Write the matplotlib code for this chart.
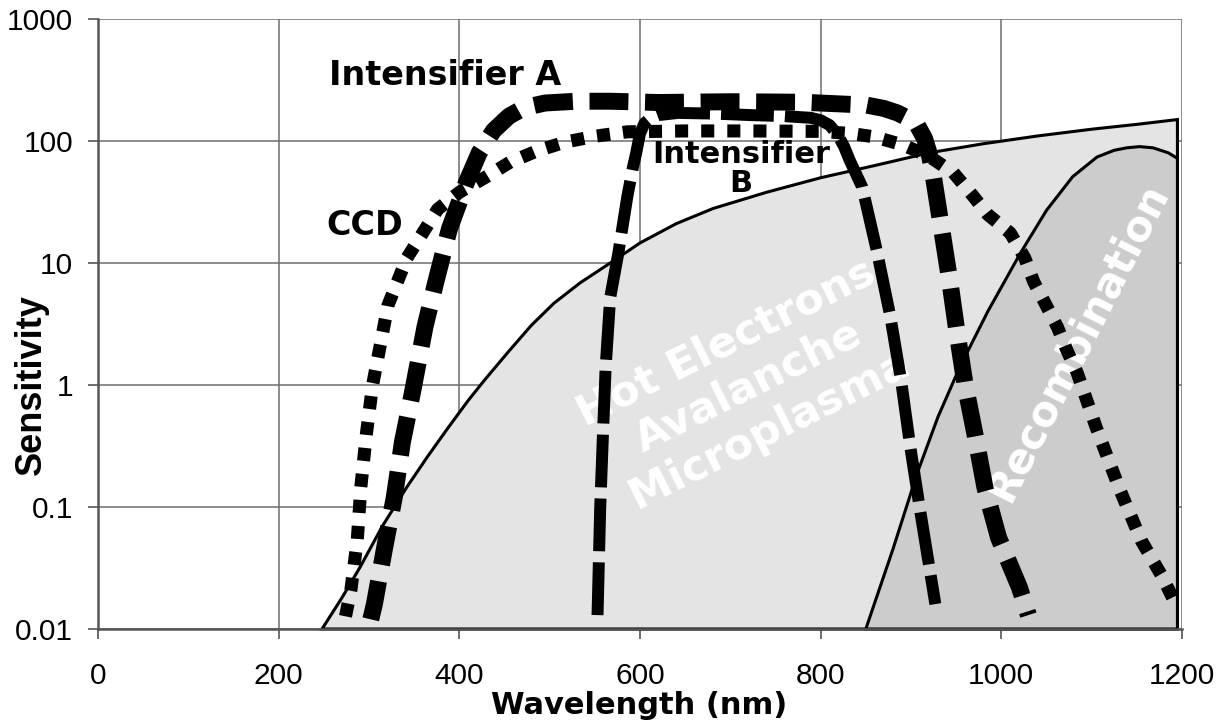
import matplotlib
matplotlib.use("Agg")
import matplotlib.pyplot as plt
from matplotlib.ticker import FixedLocator, FixedFormatter, NullLocator

plt.rcParams['font.family'] = ['Liberation Sans', 'DejaVu Sans']
plt.rcParams['lines.scale_dashes'] = False

# hot electron / avalanche / microplasma region (upper edge)
hot_x = [248, 270, 290, 315, 342, 365, 386, 410, 428, 455, 480, 505, 534, 567,
         600, 640, 681, 740, 800, 860, 920, 980, 1040, 1100, 1150, 1195]
hot_y = [0.01, 0.018, 0.032, 0.07, 0.146, 0.26, 0.43, 0.75, 1.1, 1.9, 3.1, 4.7,
         6.9, 10.0, 14.6, 21, 28, 38, 50, 63, 80, 95, 110, 125, 137, 150]

# recombination region (upper edge)
rec_x = [850, 880, 907, 930, 954, 985, 1021, 1050, 1079, 1106, 1125, 1139, 1153,
         1168, 1185, 1195]
rec_y = [0.01, 0.045, 0.19, 0.55, 1.4, 4.0, 12, 27, 51, 74, 84, 88, 90, 88, 80, 72]

# CCD sensitivity
ccd_x = [274, 280, 287, 291, 297, 304, 321, 342, 359, 376, 400, 428, 456, 486,
         517, 552, 586, 650, 720, 800, 835, 860, 891, 920, 947, 968, 985, 1010,
         1026, 1036, 1049, 1062, 1073, 1084, 1105, 1131, 1155, 1178, 1195]
ccd_y = [0.0127, 0.021, 0.053, 0.146, 0.39, 1.0, 4.5, 11, 17.4, 27.6, 38, 50, 67,
         83, 98, 110, 119, 121, 121, 120, 115, 108, 93, 75, 55, 36, 25, 17.6, 11,
         7, 4.6, 3.0, 1.9, 1.26, 0.45, 0.14, 0.053, 0.027, 0.015]

# Intensifier A
ia_x = [302, 306, 317, 328, 337, 348, 362, 374, 389, 408, 422, 438, 455, 472,
        495, 530, 567, 620, 700, 780, 851, 870, 885, 898, 907, 915, 920, 924,
        934, 943, 951, 960, 971, 982, 997, 1020, 1030]
ia_y = [0.012, 0.016, 0.045, 0.12, 0.34, 0.86, 3, 7, 19, 46, 80, 122, 160, 188,
        205, 212, 212, 207, 210, 208, 197, 185, 170, 152, 135, 105, 80, 56,
        19, 7.1, 2.7, 1.0, 0.39, 0.143, 0.056, 0.022, 0.013]

# Intensifier B
ib_x = [553, 556, 559, 562, 567, 576, 586, 592, 596, 600, 605, 612, 620, 642,
        680, 724, 760, 789, 800, 810, 819, 826, 832, 846, 862, 877, 889, 899,
        910, 922, 927]
ib_y = [0.013, 0.1, 0.39, 1.4, 5.2, 12, 35, 60, 81, 115, 140, 155, 163, 170,
        168, 163, 160, 155, 148, 135, 112, 90, 70, 42, 12.8, 3.7, 1.1, 0.32,
        0.095, 0.027, 0.016]

x_ticks = [0, 200, 400, 600, 800, 1000, 1200]
y_ticks = [0.01, 0.1, 1, 10, 100, 1000]
y_tick_labels = ['0.01', '0.1', '1', '10', '100', '1000']

fig = plt.figure(figsize=(12.28, 7.27), dpi=100)
ax = fig.add_axes([0.0798, 0.1348, 0.8827, 0.839])
ax.set_yscale('log')
ax.set_xlim(0, 1200)
ax.set_ylim(0.01, 1000)

ax.fill(hot_x + [hot_x[-1], hot_x[0]], hot_y + [0.01, 0.01],
        facecolor='#e4e4e4', edgecolor='black', lw=2.2, zorder=1, clip_on=False)
ax.fill(rec_x + [rec_x[-1], rec_x[0]], rec_y + [0.01, 0.01],
        facecolor='#cccccc', edgecolor='black', lw=2.2, zorder=1.1, clip_on=False)

ax.plot(ccd_x, ccd_y, color='black', lw=9.4, dashes=(9.4, 9.4), zorder=3)
ax.plot(ib_x, ib_y, color='black', lw=8.6, dashes=(38, 8), zorder=3)
ax.plot(ia_x, ia_y, color='black', lw=12.2, dashes=(28, 12), zorder=3)

ax.xaxis.set_major_locator(FixedLocator(x_ticks))
ax.yaxis.set_major_locator(FixedLocator(y_ticks))
ax.yaxis.set_major_formatter(FixedFormatter(y_tick_labels))
ax.yaxis.set_minor_locator(NullLocator())
ax.grid(True, color='#6e6e6e', lw=1.1)
ax.set_axisbelow(True)
for s in ['top', 'right']:
    ax.spines[s].set_visible(False)
for s in ['left', 'bottom']:
    ax.spines[s].set_color('#555555')
    ax.spines[s].set_linewidth(1.8)
ax.tick_params(axis='x', direction='out', length=7, width=1.2, color='#555555',
               labelsize=21.5, pad=17)
ax.tick_params(axis='y', direction='out', length=7, width=1.2, color='#555555',
               labelsize=21.5, pad=11)

ax.set_xlabel('Wavelength (nm)', fontsize=22, fontweight='bold', va='center',
              family='DejaVu Sans')
ax.xaxis.set_label_coords(0.499, -0.126)
ax.set_ylabel('Sensitivity', fontsize=26, fontweight='bold', va='center')
ax.yaxis.set_label_coords(-0.061, 0.40)

lab = dict(family='DejaVu Sans', fontweight='bold', ha='center', va='center',
           transform=ax.transAxes)
ax.text((445 - 98) / 1084, (629 - 75) / 610, 'Intensifier A', fontsize=24, **lab)
ax.text((365 - 98) / 1084, (629 - 225) / 610, 'CCD', fontsize=24, **lab)
ax.text((741 - 98) / 1084, (629 - 169) / 610, 'Intensifier\nB', fontsize=22,
        linespacing=1.0, **lab)
ax.text((748 - 98) / 1084, (629 - 386) / 610, 'Hot Electrons\nAvalanche\nMicroplasma',
        fontsize=31, color='white', rotation=26.5, linespacing=1.2, zorder=2,
        rotation_mode='anchor', **lab)
ax.text((1078 - 98) / 1084, (629 - 342) / 610, 'Recombination', fontsize=30,
        color='white', rotation=63, zorder=2, rotation_mode='anchor', **lab)

fig.savefig('out.png', dpi=100)
